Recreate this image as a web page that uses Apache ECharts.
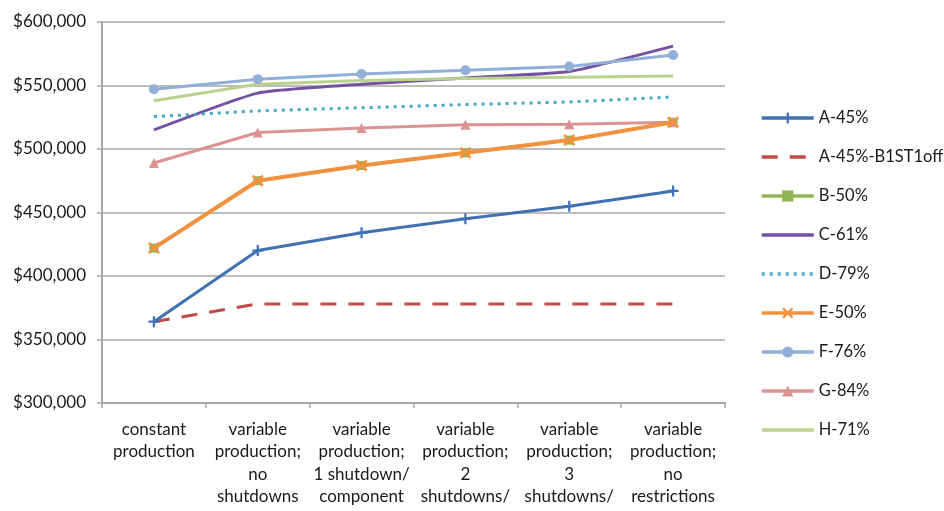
<!DOCTYPE html>
<html>
<head>
<meta charset="utf-8">
<script src="https://cdn.jsdelivr.net/npm/echarts@6/dist/echarts.min.js"></script>
<style>
  html, body { margin: 0; padding: 0; background: #fff; }
  #chart { width: 944px; height: 511px; }
</style>
</head>
<body>
<div id="chart"></div>
<script>
// Scenario categories along the x axis
const categories = [
  'constant\nproduction',
  'variable\nproduction;\nno\nshutdowns',
  'variable\nproduction;\n1 shutdown/\ncomponent',
  'variable\nproduction;\n2\nshutdowns/',
  'variable\nproduction;\n3\nshutdowns/',
  'variable\nproduction;\nno\nrestrictions'
];

// Cost per scenario for each configuration
const seriesNames = ['A-45%', 'A-45%-B1ST1off', 'B-50%', 'C-61%', 'D-79%', 'E-50%', 'F-76%', 'G-84%', 'H-71%'];
const valuesA     = [364000, 420000, 434000, 445000, 455000, 467000];
const valuesAoff  = [364000, 378000, 378000, 378000, 378000, 378000];
const valuesB     = [422000, 475000, 487000, 497000, 507000, 521000];
const valuesC     = [515000, 544000, 551000, 556000, 561000, 581000];
const valuesD     = [525500, 530000, 532500, 535000, 537000, 541000];
const valuesE     = [422000, 475000, 487000, 497000, 507000, 521000];
const valuesF     = [547000, 555000, 559000, 562000, 565000, 574000];
const valuesG     = [489000, 513000, 516500, 519000, 519500, 521000];
const valuesH     = [538000, 551000, 554000, 555500, 556500, 557500];

// Y axis range
const yMin = 300000, yMax = 600000, yStep = 50000;

const FONT = 'Lato';
const plusPath = 'path://M4,0 L6,0 L6,4 L10,4 L10,6 L6,6 L6,10 L4,10 L4,6 L0,6 L0,4 L4,4 Z';
const crossPath = 'path://M1.5,0 L5,3.5 L8.5,0 L10,1.5 L6.5,5 L10,8.5 L8.5,10 L5,6.5 L1.5,10 L0,8.5 L3.5,5 L0,1.5 Z';

function line(name, data, color, opts) {
  opts = opts || {};
  return {
    name: name,
    type: 'line',
    data: data,
    smooth: opts.smooth || 0,
    symbol: opts.symbol || 'none',
    symbolSize: opts.symbolSize || 8,
    showSymbol: !!opts.symbol,
    z: opts.z || 2,
    itemStyle: { color: color },
    lineStyle: { color: color, width: opts.width || 3, type: opts.type || 'solid' },
    emphasis: { disabled: true }
  };
}

// Series drawn as plain lines show no marker in the legend either
const plainLines = ['A-45%-B1ST1off', 'C-61%', 'D-79%', 'H-71%'];
const legendData = seriesNames.map(n => plainLines.includes(n)
  ? { name: n, itemStyle: { opacity: 0 } }
  : { name: n });

const chart = echarts.init(document.getElementById('chart'), null, { renderer: 'canvas' });
chart.setOption({
  animation: false,
  backgroundColor: '#ffffff',
  textStyle: { fontFamily: FONT },
  grid: { left: 102, right: 219, top: 22, bottom: 108 },
  legend: {
    orient: 'vertical',
    left: 760,
    top: 108,
    padding: 0,
    itemGap: 19,
    itemWidth: 52,
    itemHeight: 14,
    lineStyle: { width: 3.5 },
    textStyle: { fontSize: 16.5, lineHeight: 20, color: '#1a1a1a', fontFamily: FONT, overflow: 'none' },
    data: legendData
  },
  xAxis: {
    type: 'category',
    data: categories,
    boundaryGap: true,
    axisLine: { lineStyle: { color: '#a6a6a6', width: 2 } },
    axisTick: { show: true, length: 5, lineStyle: { color: '#a6a6a6', width: 1.5 } },
    axisLabel: { interval: 0, color: '#1a1a1a', fontSize: 17, lineHeight: 22.5, margin: 15, fontFamily: FONT },
    splitLine: { show: false }
  },
  yAxis: {
    type: 'value',
    min: yMin,
    max: yMax,
    interval: yStep,
    axisLine: { show: true, lineStyle: { color: '#a6a6a6', width: 2 } },
    axisTick: { show: true, length: 5, lineStyle: { color: '#a6a6a6', width: 1.5 } },
    axisLabel: {
      color: '#1a1a1a', fontSize: 17, margin: 16, fontFamily: FONT,
      formatter: v => '$' + v.toLocaleString('en-US')
    },
    splitLine: { lineStyle: { color: '#bdbdbd', width: 2 } }
  },
  series: [
    line('A-45%', valuesA, '#3f71b3', { symbol: plusPath, symbolSize: 11, z: 5 }),
    line('A-45%-B1ST1off', valuesAoff, '#be4b48', { type: [16, 12], z: 4 }),
    line('B-50%', valuesB, '#8fb653', { symbol: 'rect', symbolSize: 9, z: 3 }),
    line('C-61%', valuesC, '#7452a0', { z: 3, smooth: 0.15 }),
    line('D-79%', valuesD, '#45a7c3', { type: [3, 5], z: 3 }),
    line('E-50%', valuesE, '#f0923f', { symbol: crossPath, symbolSize: 12, width: 4, z: 4 }),
    line('F-76%', valuesF, '#92afd8', { symbol: 'circle', symbolSize: 10, z: 4 }),
    line('G-84%', valuesG, '#da9392', { symbol: 'triangle', symbolSize: 10, z: 3 }),
    line('H-71%', valuesH, '#b9d38f', { z: 3 })
  ]
});
</script>
</body>
</html>
